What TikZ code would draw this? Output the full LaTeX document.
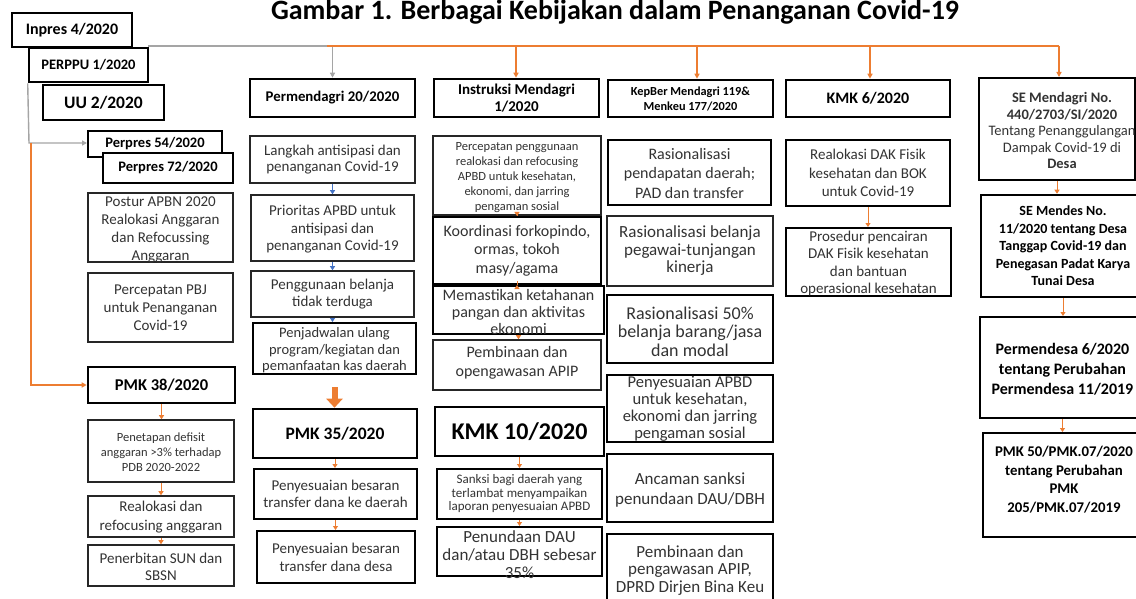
\documentclass[tikz,border=0pt]{standalone}
\usepackage{fontspec}
\setmainfont{Carlito}
\usetikzlibrary{fit,arrows.meta}
\definecolor{org}{HTML}{ED7D31}
\definecolor{gry}{HTML}{A5A5A5}
\definecolor{blu}{HTML}{4472C4}
\definecolor{txg}{HTML}{333333}
\newcommand\bx[8]{\node[#2, fit={(#3,#4) (#5,#6)}] (#1) {};\node[txt,#7] (#1t) at (#1.center) {#8};}
\begin{document}
\begin{tikzpicture}[x=1pt,y=-1pt,
  hd/.style={draw=black, line width=2.6pt, fill=white, inner sep=0pt},
  md/.style={draw=black, line width=2pt, fill=white, inner sep=0pt},
  sb/.style={draw=black!85, line width=1.6pt, fill=white, inner sep=0pt},
  txt/.style={align=center, inner sep=0pt, text=txg},
  fs/.style 2 args={font=\fontsize{#1}{#2}\selectfont},
  bf/.style 2 args={font=\bfseries\fontsize{#1}{#2}\selectfont, text=black},
  oarr/.style={draw=org, line width=1pt, -{Triangle[length=4pt,width=5pt]}},
  barr/.style={draw=blu, line width=1pt, -{Triangle[length=4pt,width=5pt]}},
  oline/.style={draw=org, line width=1.4pt},
  gline/.style={draw=gry, line width=1.4pt},
  bigarr/.style={draw=org, line width=6pt, -{Triangle[length=9pt,width=16pt]}}]
\useasboundingbox (0,0) rectangle (1136,599);
\clip (0,0) rectangle (1136,599);
\fill[white] (0,0) rectangle (1136,599);
% title
\node[anchor=base, font=\bfseries\fontsize{28}{28}\selectfont] (title) at (615,20) {Gambar 1. Berbagai Kebijakan dalam Penanganan Covid-19};
% connector points
\coordinate (g0) at (148,46);
\coordinate (o0) at (327,46);
\coordinate (ob1) at (516,46);
\coordinate (ob2) at (697,46);
\coordinate (ob3) at (870,46);
\coordinate (ob4) at (1059,46);
\coordinate (gl) at (29,143);
\coordinate (ol) at (31,143);
% left column
\bx{inpres}{hd}{12}{13}{132}{47}{bf={16}{18}}{Inpres 4/2020}
\bx{perppu}{hd}{29}{48}{148}{82}{bf={14.5}{16}}{PERPPU 1/2020}
\bx{uu}{hd}{43}{85}{164}{120}{bf={17.5}{20}}{UU 2/2020}
\bx{p54}{md}{88}{131}{222}{157}{bf={14.5}{16}}{Perpres 54/2020}
\bx{p72}{md}{103}{153}{233}{183}{bf={14.5}{16}}{Perpres 72/2020}
\bx{postur}{sb}{88}{193}{233}{262}{fs={15}{18},yshift=-2pt}{Postur APBN 2020\\Realokasi Anggaran\\dan Refocussing\\Anggaran}
\bx{pbj}{sb}{88}{273}{233}{342}{fs={15}{18}}{Percepatan PBJ\\untuk Penanganan\\Covid-19}
\bx{pmk38}{hd}{88}{367}{235}{403}{bf={16.5}{20}}{PMK 38/2020}
\bx{defisit}{sb}{88}{420}{234}{482}{fs={12.5}{15},yshift=-1pt}{Penetapan defisit\\anggaran >3\% terhadap\\PDB 2020-2022}
\bx{realok}{sb}{88}{496}{234}{537}{fs={15}{19},yshift=-1pt}{Realokasi dan\\refocusing anggaran}
\bx{sun}{sb}{88}{545}{234}{586}{fs={15}{17},yshift=-1pt}{Penerbitan SUN dan\\SBSN}
% column 2
\bx{perm20}{hd}{250}{79}{415}{117}{bf={14.8}{16}}{Permendagri 20/2020}
\bx{langkah}{sb}{250}{136}{415}{183}{fs={15}{16.5}}{Langkah antisipasi dan\\penanganan Covid-19}
\bx{prior}{sb}{251}{195}{414}{261}{fs={15}{17.5},yshift=-1.5pt}{Prioritas APBD untuk\\antisipasi dan\\penanganan Covid-19}
\bx{peng}{sb}{251}{271}{414}{317}{fs={15}{17}}{Penggunaan belanja\\tidak terduga}
\bx{jadwal}{md}{253}{323}{416}{374}{fs={14.5}{16.5},yshift=-2pt}{Penjadwalan ulang\\program/kegiatan dan\\pemanfaatan kas daerah}
\bx{pmk35}{hd}{253}{409}{417}{458}{bf={17.5}{20}}{PMK 35/2020}
\bx{peny1}{md}{254}{469}{417}{519}{fs={15}{17}}{Penyesuaian besaran\\transfer dana ke daerah}
\bx{peny2}{md}{257}{531}{415}{583}{fs={15}{18}}{Penyesuaian besaran\\transfer dana desa}
% column 3
\bx{instr}{hd}{434}{79}{599}{117}{bf={15}{17}}{Instruksi Mendagri\\1/2020}
\bx{percep}{sb}{433}{136}{601}{215}{fs={12.5}{15},yshift=-2pt}{Percepatan penggunaan\\realokasi dan refocusing\\APBD untuk kesehatan,\\ekonomi, dan jarring\\pengaman sosial}
\bx{koord}{md}{433}{217}{601}{284}{fs={16}{18.5}}{Koordinasi forkopindo,\\ormas, tokoh\\masy/agama}
\bx{memast}{md}{433}{286}{604}{334}{fs={16}{17},yshift=-2pt}{Memastikan ketahanan\\pangan dan aktivitas\\ekonomi}
\bx{pembin}{sb}{433}{340}{601}{390}{fs={16}{19},yshift=2.5pt}{Pembinaan dan\\opengawasan APIP}
\bx{kmk10}{hd}{435}{407}{604}{456}{bf={24}{28}}{KMK 10/2020}
\bx{sanksi}{md}{437}{469}{602}{519}{fs={13}{13.5}}{Sanksi bagi daerah yang\\terlambat menyampaikan\\laporan penyesuaian APBD}
\bx{tunda}{md}{437}{527}{602}{576}{fs={17}{18},yshift=-3.5pt}{Penundaan DAU\\dan/atau DBH sebesar\\35\%}
% column 4
\bx{kepber}{hd}{608}{80}{773}{117}{bf={12.3}{15}}{KepBer Mendagri 119\&\\Menkeu 177/2020}
\bx{ras1}{md}{608}{140}{771}{205}{fs={16}{19.5},yshift=-1pt}{Rasionalisasi\\pendapatan daerah;\\PAD dan transfer}
\bx{ras2}{sb}{607}{216}{773}{286}{fs={17}{17.5}}{Rasionalisasi belanja\\pegawai-tunjangan\\kinerja}
\bx{ras3}{md}{607}{295}{773}{363}{fs={18}{18.5},yshift=-2.5pt}{Rasionalisasi 50\%\\belanja barang/jasa\\dan modal}
\bx{penyapbd}{md}{607}{375}{773}{442}{fs={16.5}{17}}{Penyesuaian APBD\\untuk kesehatan,\\ekonomi dan jarring\\pengaman sosial}
\bx{ancam}{md}{607}{454}{773}{522}{fs={17}{20},yshift=-2pt}{Ancaman sanksi\\penundaan DAU/DBH}
\bx{pembapip}{md}{607}{534}{773}{605}{fs={17}{17.5},yshift=-1pt}{Pembinaan dan\\pengawasan APIP,\\DPRD Dirjen Bina Keu}
% column 5
\bx{kmk6}{hd}{786}{80}{950}{117}{bf={16}{18}}{KMK 6/2020}
\bx{dak}{hd}{786}{140}{950}{206}{fs={15}{18.5}}{Realokasi DAK Fisik\\kesehatan dan BOK\\untuk Covid-19}
\bx{pros}{md}{786}{228}{951}{296}{fs={15}{17.5},yshift=-1.5pt}{Prosedur pencairan\\DAK Fisik kesehatan\\dan bantuan\\operasional kesehatan}
% column 6
\bx{semendagri}{md}{979}{78}{1135}{180}{fs={14.5}{16.5},yshift=-1.5pt,xshift=5pt}{\textbf{SE Mendagri No.}\\\textbf{440/2703/SI/2020}\\Tentang Penanggulangan\\Dampak Covid-19 di\\\textbf{Desa}}
\bx{semendes}{hd}{981}{195}{1145}{297}{bf={14}{17.5}}{SE Mendes No.\\11/2020 tentang Desa\\Tanggap Covid-19 dan\\Penegasan Padat Karya\\Tunai Desa}
\bx{permendesa}{md}{980}{317}{1145}{418}{bf={16}{20},yshift=-1.5pt}{Permendesa 6/2020\\tentang Perubahan\\Permendesa 11/2019}
\bx{pmk50}{md}{983}{433}{1145}{537}{bf={14.8}{18.5},yshift=5.5pt}{PMK 50/PMK.07/2020\\tentang Perubahan\\PMK\\205/PMK.07/2019}
% top connectors
\draw[gline] (g0) -- (o0);
\draw[gline, -{Triangle[length=5pt,width=5pt]}] (o0) -| (perm20.north);
\draw[oline] (o0) -- (ob4);
\draw[oline, -{Triangle[length=5pt,width=5pt]}] (ob1) -- (ob1 |- instr.north);
\draw[oline, -{Triangle[length=5pt,width=5pt]}] (ob2) -- (ob2 |- kepber.north);
\draw[oline, -{Triangle[length=5pt,width=5pt]}] (ob3) -- (ob3 |- kmk6.north);
\draw[oline, -{Triangle[length=5pt,width=5pt]}] (ob4) -- (ob4 |- semendagri.north);
% left connectors
\draw[gline, -{Triangle[length=5pt,width=5pt]}] (perppu.south west) -- (gl) -- (gl -| p54.west);
\draw[oline, -{Triangle[length=5pt,width=5pt]}] (ol) |- (pmk38.west);
% column arrows
\draw[oarr] (pmk38.south) -- (pmk38.south |- defisit.north);
\draw[oarr] (defisit.south) -- (defisit.south |- realok.north);
\draw[oarr] (realok.south) -- (realok.south |- sun.north);
\draw[barr] (langkah.south) -- (langkah.south |- prior.north);
\draw[barr] (prior.south) -- (prior.south |- peng.north);
\draw[barr] (peng.south) -- (peng.south |- jadwal.north);
\draw[bigarr, shorten <=12pt] (jadwal.south) -- (jadwal.south |- pmk35.north);
\draw[oarr] (pmk35.south) -- (pmk35.south |- peny1.north);
\draw[oarr] (peny1.south) -- (peny1.south |- peny2.north);
\draw[oarr] (percep.south) -- (percep.south |- koord.north);
\draw[oarr] (koord.south) -- (koord.south |- memast.north);
\draw[oarr] (memast.south) -- (memast.south |- pembin.north);
\draw[oarr] (kmk10.south) -- (kmk10.south |- sanksi.north);
\draw[oarr] (sanksi.south) -- (sanksi.south |- tunda.north);
\draw[oarr] (dak.south) -- (dak.south |- pros.north);
\draw[oarr] (semendagri.south) -- (semendagri.south |- semendes.north);
\draw[oarr] (semendes.south) -- (semendes.south |- permendesa.north);
\draw[oarr] (permendesa.south) -- (permendesa.south |- pmk50.north);
\end{tikzpicture}
\end{document}
